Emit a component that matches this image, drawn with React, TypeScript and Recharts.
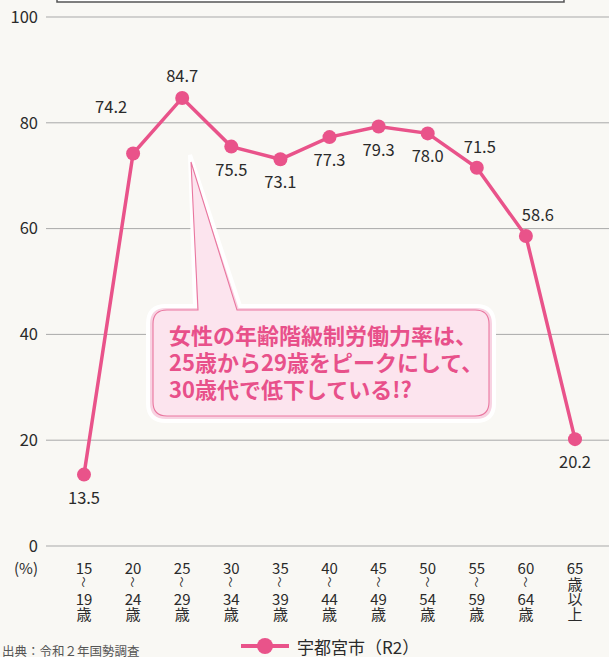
import React from "react";
import { LineChart, Line, XAxis, YAxis, CartesianGrid, LabelList, Customized } from "recharts";

const ageFrom = ["15", "20", "25", "30", "35", "40", "45", "50", "55", "60", "65"];
const ageTo = ["19", "24", "29", "34", "39", "44", "49", "54", "59", "64", "以上"];
const rates = [13.5, 74.2, 84.7, 75.5, 73.1, 77.3, 79.3, 78.0, 71.5, 58.6, 20.2];
const yTicks = [0, 20, 40, 60, 80, 100];
const seriesName = "宇都宮市（R2）";
const sourceText = "出典：令和２年国勢調査";
const calloutLines = [
  "女性の年齢階級制労働力率は、",
  "25歳から29歳をピークにして、",
  "30歳代で低下している!?",
];

const data = ageFrom.map((f, i) => ({ age: f, to: ageTo[i], rate: rates[i] }));

// label offsets (layout only)
const labelOffsets: [number, number][] = [
  [0, 22], [-22, -47], [0, -23], [0, 22], [0, 22], [0, 22], [0, 22], [0, 22], [3, -22], [12, -22], [0, 22],
];

const FONT = "'Noto Sans CJK JP', 'Noto Sans', sans-serif";
const PINK = "#e9538a";
const TEXT = "#2a2a2a";

const XTick = (props: any) => {
  const { x, y, payload, index } = props;
  const item = data[index] || data.find((d) => d.age === payload.value);
  const last = item && item.to === "以上";
  const fs = 15;
  return (
    <g fontFamily={FONT} fill={TEXT} fontSize={fs}>
      <text x={x} y={y + 21} textAnchor="middle" dominantBaseline="central">{payload.value}</text>
      {last ? (
        <>
          <text x={x} y={y + 37} textAnchor="middle" dominantBaseline="central">歳</text>
          <text x={x} y={y + 52} textAnchor="middle" dominantBaseline="central">以</text>
          <text x={x} y={y + 67} textAnchor="middle" dominantBaseline="central">上</text>
        </>
      ) : (
        <>
          <text x={x} y={y + 36} textAnchor="middle" dominantBaseline="central" fontSize={11}
            transform={`rotate(90 ${x} ${y + 36})`}>〜</text>
          <text x={x} y={y + 52} textAnchor="middle" dominantBaseline="central">{item ? item.to : ""}</text>
          <text x={x} y={y + 67} textAnchor="middle" dominantBaseline="central">歳</text>
        </>
      )}
    </g>
  );
};

const ValueLabel = (props: any) => {
  const { x, y, value, index } = props;
  const [dx, dy] = labelOffsets[index] || [0, 22];
  return (
    <text x={x + dx} y={y + dy} textAnchor="middle" dominantBaseline="central"
      fontFamily={FONT} fontSize={16.5} fill={TEXT}>
      {Number(value).toFixed(1)}
    </text>
  );
};

const roundedCallout = (x1: number, y1: number, x2: number, y2: number, r: number, tb1: number, tip: [number, number], tb2: number) =>
  `M ${x1 + r} ${y1} L ${tb1} ${y1} L ${tip[0]} ${tip[1]} L ${tb2} ${y1} L ${x2 - r} ${y1} Q ${x2} ${y1} ${x2} ${y1 + r} ` +
  `L ${x2} ${y2 - r} Q ${x2} ${y2} ${x2 - r} ${y2} L ${x1 + r} ${y2} Q ${x1} ${y2} ${x1} ${y2 - r} L ${x1} ${y1 + r} Q ${x1} ${y1} ${x1 + r} ${y1} Z`;

const Decorations = () => (
  <g>
    <rect x={57} y={-10} width={507} height={12} fill="#ffffff" stroke="#555" strokeWidth={1.5} />
    <text x={38} y={567} textAnchor="end" dominantBaseline="central" fontFamily={FONT} fontSize={15} fill={TEXT}>(%)</text>
    <path d={roundedCallout(148, 306, 494, 421, 18, 195, [190, 155], 240)} fill="#f8d3e2" stroke="#ffffff" strokeWidth={4} />
    <path d={roundedCallout(153, 310, 489, 416, 14, 198, [191, 162], 237)} fill="#fce4ee" stroke="#e9769f" strokeWidth={1.1} />
    <g fontFamily={FONT} fontSize={22} fontWeight={700} fill="#e8508a">
      {calloutLines.map((t, i) => (
        <text key={i} x={169} y={334 + i * 27} dominantBaseline="central">{t}</text>
      ))}
    </g>
    <line x1={241} y1={646} x2={289} y2={646} stroke={PINK} strokeWidth={4} />
    <circle cx={265} cy={646} r={8} fill={PINK} />
    <text x={297} y={646} dominantBaseline="central" fontFamily={FONT} fontSize={17} fill={TEXT}>{seriesName}</text>
    <text x={2} y={650} dominantBaseline="central" fontFamily={FONT} fontSize={12.5} fill="#555">{sourceText}</text>
  </g>
);

export default function App() {
  return (
    <div style={{ position: "absolute", left: 0, top: 0, width: 609, height: 657, background: "#f9f8f4", overflow: "hidden" }}>
      <LineChart width={609} height={657} data={data} margin={{ top: 17, right: 0, left: 0, bottom: 0 }}>
        <CartesianGrid vertical={false} stroke="#a9a9a9" strokeWidth={1} />
        <XAxis dataKey="age" scale="point" padding={{ left: 38, right: 34 }} height={111}
          tickLine={false} axisLine={false} tickSize={0} tickMargin={0} interval={0} tick={<XTick />} />
        <YAxis domain={[0, 100]} ticks={yTicks} width={46} tickLine={false} axisLine={false}
          tick={{ fontFamily: FONT, fontSize: 16.5, fill: TEXT }} />
        <Line dataKey="rate" stroke={PINK} strokeWidth={3.5} isAnimationActive={false}
          dot={{ r: 7, fill: PINK, stroke: PINK, strokeWidth: 0 }} activeDot={false}>
          <LabelList dataKey="rate" content={<ValueLabel />} />
        </Line>
        <Customized component={Decorations} />
      </LineChart>
    </div>
  );
}
